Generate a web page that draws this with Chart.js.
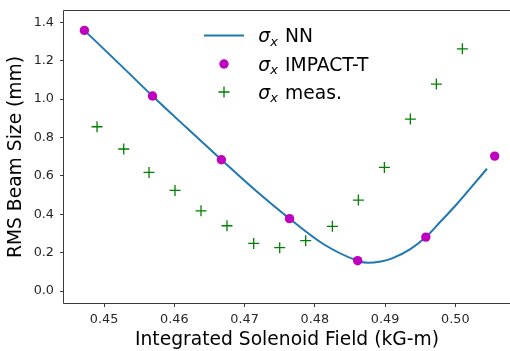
<!DOCTYPE html>
<html>
<head>
<meta charset="utf-8">
<script src="https://cdn.jsdelivr.net/npm/chart.js@4.4.1/dist/chart.umd.min.js"></script>
<style>
  html, body { margin: 0; padding: 0; background: #fff; overflow: hidden; }
  #wrap { width: 510px; height: 351px; }
</style>
</head>
<body>
<div id="wrap"><canvas id="beam-chart" width="510" height="351"></canvas></div>
<script>
// NN prediction
const nnX = [0.4472, 0.4521, 0.4569, 0.4618, 0.4667, 0.4715, 0.4764, 0.4812, 0.4861, 0.4876, 0.4894, 0.4910, 0.4936, 0.4958, 0.4979, 0.5001, 0.5045];
const nnY = [1.358, 1.186, 1.016, 0.849, 0.684, 0.526, 0.377, 0.245, 0.158, 0.147, 0.154, 0.170, 0.218, 0.281, 0.362, 0.448, 0.637];

// IMPACT-T simulation points
const impactX = [0.4472, 0.4569, 0.4667, 0.4764, 0.4861, 0.4958, 0.5056];
const impactY = [1.358, 1.016, 0.684, 0.377, 0.158, 0.281, 0.703];

// measurements
const measX = [0.4490, 0.4528, 0.4564, 0.4601, 0.4638, 0.4675, 0.4713, 0.4750, 0.4787, 0.4825, 0.4862, 0.4899, 0.4936, 0.4973, 0.5010];
const measY = [0.856, 0.740, 0.618, 0.524, 0.418, 0.340, 0.248, 0.226, 0.262, 0.337, 0.474, 0.644, 0.896, 1.078, 1.262];

const xTicks = [0.45, 0.46, 0.47, 0.48, 0.49, 0.50];
const yTicks = [0.0, 0.2, 0.4, 0.6, 0.8, 1.0, 1.2, 1.4];

const FONT = '"DejaVu Sans", Verdana, sans-serif';

function toPoints(xs, ys) {
  return xs.map((x, i) => ({ x, y: ys[i] }));
}

// frame + legend drawn by hand (matplotlib-like, with sigma_x)
// the figure is cropped on the right, so no right spine
const framePlugin = {
  id: 'frame',
  afterDraw(chart) {
    const { ctx, chartArea } = chart;
    const l = chartArea.left - 0.5;
    const t = chartArea.top - 0.5;
    const b = chartArea.bottom + 0.5;
    ctx.save();
    ctx.strokeStyle = '#3a3a3a';
    ctx.lineWidth = 1;
    ctx.beginPath();
    ctx.moveTo(chart.width, t);
    ctx.lineTo(l, t);
    ctx.lineTo(l, b);
    ctx.lineTo(chart.width, b);
    ctx.stroke();

    const rows = [
      { label: 'NN', type: 'line', y: 35.5 },
      { label: 'IMPACT-T', type: 'dot', y: 64 },
      { label: 'meas.', type: 'plus', y: 92 },
    ];
    rows.forEach((row) => {
      const cx = 224;
      if (row.type === 'line') {
        ctx.strokeStyle = '#1f77b4';
        ctx.lineWidth = 2;
        ctx.beginPath();
        ctx.moveTo(204, row.y);
        ctx.lineTo(244, row.y);
        ctx.stroke();
      } else if (row.type === 'dot') {
        ctx.fillStyle = '#bf00bf';
        ctx.beginPath();
        ctx.arc(cx, row.y, 4.7, 0, Math.PI * 2);
        ctx.fill();
      } else {
        ctx.strokeStyle = '#008000';
        ctx.lineWidth = 1.3;
        ctx.beginPath();
        ctx.moveTo(cx - 5.5, row.y);
        ctx.lineTo(cx + 5.5, row.y);
        ctx.moveTo(cx, row.y - 5.5);
        ctx.lineTo(cx, row.y + 5.5);
        ctx.stroke();
      }
      const base = row.y + 6.5;
      ctx.fillStyle = '#000';
      ctx.textBaseline = 'alphabetic';
      ctx.textAlign = 'left';
      ctx.font = 'italic 18.7px ' + FONT;
      ctx.fillText('σ', 258.3, base);
      const sw = ctx.measureText('σ').width;
      ctx.font = 'italic 13px ' + FONT;
      ctx.fillText('x', 258.3 + sw, base + 3.8);
      ctx.font = '18.7px ' + FONT;
      ctx.fillText(row.label, 285, base);
    });
    ctx.restore();
  },
};

new Chart(document.querySelector('#beam-chart'), {
  type: 'scatter',
  data: {
    datasets: [
      {
        label: 'σx NN',
        data: toPoints(nnX, nnY),
        showLine: true,
        borderColor: '#1f77b4',
        borderWidth: 2,
        pointRadius: 0,
        pointHoverRadius: 0,
        cubicInterpolationMode: 'monotone',
        order: 3,
      },
      {
        label: 'σx IMPACT-T',
        data: toPoints(impactX, impactY),
        pointStyle: 'circle',
        pointRadius: 4.7,
        backgroundColor: '#bf00bf',
        borderWidth: 0,
        order: 2,
      },
      {
        label: 'σx meas.',
        data: toPoints(measX, measY),
        pointStyle: 'cross',
        pointRadius: 5.5,
        borderColor: '#008000',
        borderWidth: 1.3,
        order: 1,
      },
    ],
  },
  options: {
    responsive: false,
    animation: false,
    devicePixelRatio: 1,
    layout: { autoPadding: false, padding: { top: 11, right: 0, bottom: 0, left: 0 } },
    plugins: {
      legend: { display: false },
      tooltip: { enabled: false },
    },
    scales: {
      x: {
        type: 'linear',
        min: 0.4443,
        max: 0.50778,
        afterFit(scale) {
          scale.height = 48;
          scale.paddingLeft = 0;
          scale.paddingRight = 0;
        },
        afterBuildTicks(scale) { scale.ticks = xTicks.map((v) => ({ value: v })); },
        border: { display: false },
        grid: { drawOnChartArea: false, drawTicks: true, tickLength: 4, color: '#3a3a3a' },
        ticks: {
          padding: 5,
          color: '#262626',
          font: { family: FONT, size: 12.8 },
          callback: (v) => Number(v).toFixed(2),
        },
        title: {
          display: true,
          text: 'Integrated Solenoid Field (kG-m)',
          color: '#000',
          padding: 0,
          font: { family: FONT, size: 18.7 },
        },
      },
      y: {
        type: 'linear',
        min: -0.0625,
        max: 1.459,
        afterFit(scale) {
          scale.width = 64;
          scale.paddingTop = 0;
          scale.paddingBottom = 0;
        },
        afterBuildTicks(scale) { scale.ticks = yTicks.map((v) => ({ value: v })); },
        border: { display: false },
        grid: { drawOnChartArea: false, drawTicks: true, tickLength: 4, color: '#3a3a3a' },
        ticks: {
          padding: 6,
          color: '#262626',
          font: { family: FONT, size: 12.8 },
          callback: (v) => Number(v).toFixed(1),
        },
        title: {
          display: true,
          text: 'RMS Beam Size (mm)',
          color: '#000',
          padding: { top: 5, bottom: 0 },
          font: { family: FONT, size: 18.7 },
        },
      },
    },
  },
  plugins: [framePlugin],
});
</script>
</body>
</html>
